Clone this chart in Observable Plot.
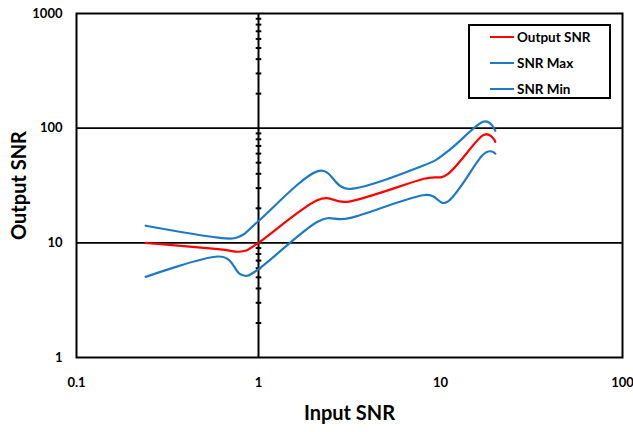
<!DOCTYPE html>
<html>
<head>
<meta charset="utf-8">
<script src="https://cdn.jsdelivr.net/npm/d3@7"></script>
<script src="https://cdn.jsdelivr.net/npm/@observablehq/plot@0.6"></script>
<style>
  html, body { margin: 0; padding: 0; background: #fff; }
  #wrap { position: relative; width: 633px; height: 432px; overflow: hidden; font-family: Lato, "Liberation Sans", sans-serif; }
  #legend { position: absolute; left: 468px; top: 24px; width: 139px; height: 71px; border: 2px solid #000; background: #fff; }
  .row { position: absolute; left: 0; height: 20px; display: flex; align-items: center; }
  .sw { position: absolute; left: 20px; width: 24px; height: 0; border-top: 2.5px solid; }
  .lab { position: absolute; left: 47px; font-weight: bold; font-size: 13.5px; white-space: nowrap; color: #000; }
</style>
</head>
<body>
<div id="wrap"></div>
<script>
const inputSNR  = [0.24, 0.6, 0.8, 1, 2.1, 3.2, 8, 11, 17, 20];
const outputSNR = [10, 8.8, 8.4, 10, 23.5, 23, 36, 40, 86, 76];
const snrMax    = [14.1, 11.1, 11.5, 15.5, 42, 29.5, 47, 63, 113, 95];
const snrMin    = [5.05, 7.6, 5.3, 5.9, 15.2, 16.5, 26, 23, 58, 60];

const xTicks = [0.1, 1, 10, 100];
const yTicks = [1, 10, 100, 1000];
const yGrid = [10, 100];
const yMinor = [2, 3, 4, 5, 6, 7, 8, 9, 20, 30, 40, 50, 60, 70, 80, 90, 200, 300, 400, 500, 600, 700, 800, 900];

const seriesNames = ["Output SNR", "SNR Max", "SNR Min"];
const seriesColors = ["#ff0000", "#1f7ac4", "#1f7ac4"];
const seriesValues = [outputSNR, snrMax, snrMin];

const rows = [];
seriesNames.forEach((name, i) => {
  inputSNR.forEach((x, j) => rows.push({series: name, x, y: seriesValues[i][j]}));
});

const hTick = {
  draw(ctx, size) {
    const r = Math.sqrt(size / Math.PI);
    ctx.moveTo(-r, 0);
    ctx.lineTo(r, 0);
  }
};

const chart = Plot.plot({
  width: 633,
  height: 432,
  marginLeft: 76,
  marginRight: 11,
  marginTop: 13,
  marginBottom: 75,
  style: {fontFamily: "Lato, 'Liberation Sans', sans-serif", fontWeight: "bold", color: "#000", background: "#fff"},
  x: {type: "log", domain: [0.1, 100]},
  y: {type: "log", domain: [1, 1000]},
  color: {domain: seriesNames, range: seriesColors},
  marks: [
    Plot.ruleY(yGrid, {stroke: "#000", strokeWidth: 1.6}),
    Plot.ruleX([1], {stroke: "#000", strokeWidth: 2}),
    Plot.dot(yMinor, {x: () => 1, y: d => d, symbol: hTick, r: 2.8, stroke: "#000", strokeWidth: 2, fill: "none"}),
    Plot.line(rows.filter(d => d.series !== "Output SNR"), {x: "x", y: "y", z: "series", stroke: "series", strokeWidth: 2.2, curve: "cardinal"}),
    Plot.line(rows.filter(d => d.series === "Output SNR"), {x: "x", y: "y", stroke: "series", strokeWidth: 2.2, curve: "cardinal"}),
    Plot.frame({stroke: "#000", strokeWidth: 2}),
    Plot.axisX(xTicks, {tickSize: 0, tickPadding: 20, fontSize: 13, fontWeight: "bold", tickFormat: d => String(d), label: null}),
    Plot.axisY(yTicks, {tickSize: 0, tickPadding: 14, fontSize: 13, fontWeight: "bold", tickFormat: d => String(d), label: null}),
    Plot.text(["Input SNR"], {frameAnchor: "bottom", dy: 62, fontSize: 20, fontWeight: "bold", fill: "#000"}),
    Plot.text(["Output SNR"], {frameAnchor: "left", textAnchor: "middle", dx: -57, rotate: -90, fontSize: 20, fontWeight: "bold", fill: "#000"})
  ]
});

const wrap = document.getElementById("wrap");
wrap.appendChild(chart);

const legend = document.createElement("div");
legend.id = "legend";
seriesNames.forEach((name, i) => {
  const row = document.createElement("div");
  row.className = "row";
  row.style.top = (1 + i * 26) + "px";
  const sw = document.createElement("div");
  sw.className = "sw";
  sw.style.borderTopColor = seriesColors[i];
  const lab = document.createElement("div");
  lab.className = "lab";
  lab.textContent = name;
  row.appendChild(sw);
  row.appendChild(lab);
  legend.appendChild(row);
});
wrap.appendChild(legend);
</script>
</body>
</html>
